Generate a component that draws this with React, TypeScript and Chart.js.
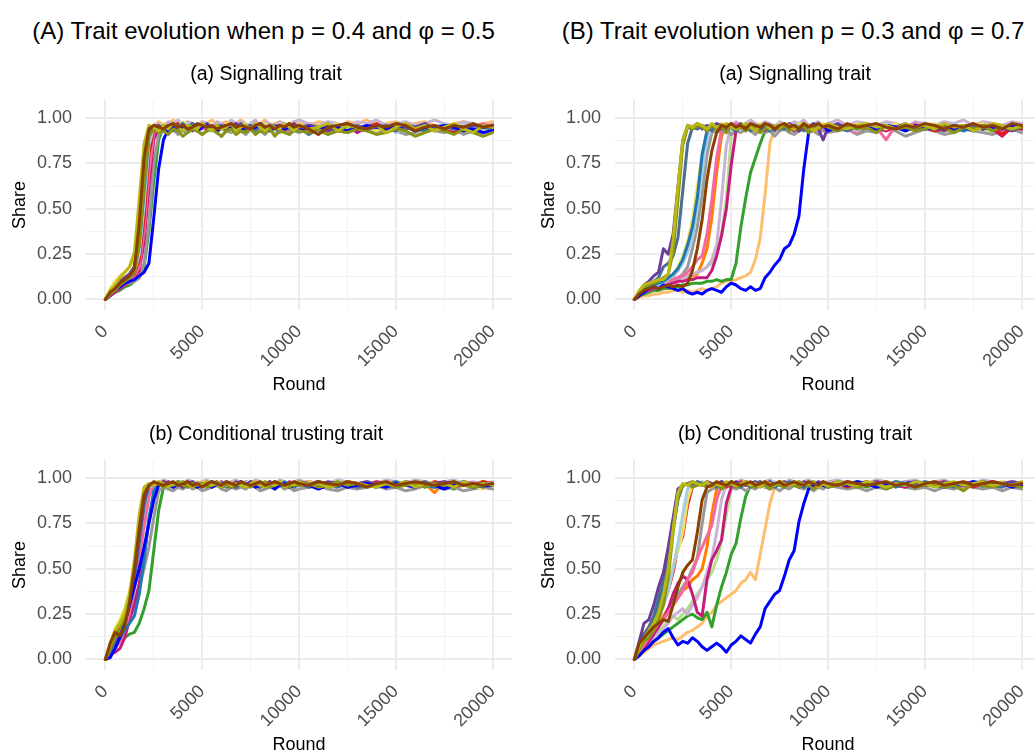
import React, { useEffect, useRef } from "react";
import { Chart, registerables } from "chart.js";
Chart.register(...registerables);

const FONT = "'Liberation Sans', Arial, sans-serif";

// x grid (rounds)
const ROUNDS = [0,250,500,750,1000,1250,1500,1750,2000,2250,2500,2750,3000,3250,3500,3750,4000,4250,4500,4750,5000,5250,5500,5750,6000,6250,6500,6750,7000,7250,7500,7750,8000,8250,8500,8750,9000,9250,9500,9750,10000,10500,11000,11500,12000,12500,13000,13500,14000,14500,15000,15500,16000,16500,17000,17500,18000,18500,19000,19500,20000];

const X_TICKS = [0, 2500, 5000, 7500, 10000, 12500, 15000, 17500, 20000];
const X_MAJOR = [0, 5000, 10000, 15000, 20000];
const Y_TICKS = [0, 0.125, 0.25, 0.375, 0.5, 0.625, 0.75, 0.875, 1];
const Y_MAJOR = [0, 0.25, 0.5, 0.75, 1];

const SERIES_NAMES = ["brown","oliveYellow","oliveDark","blue","purple","slate","steel","lightBlue","yellow","red","pink","magenta","gray","lavender","lightGreen","green","lightOrange","orange"];
const SERIES_COLORS = ["#8B4000","#B8BA12","#8A9414","#0000FF","#6A3D9A","#4A6F91","#1F78B4","#A6CEE3","#F0E060","#E31A1C","#F768A1","#C51B7D","#999999","#CAB2D6","#B2DF8A","#33A02C","#FDBF6F","#FF7F00"];

// ---- Panel A(a): signalling trait, p = 0.4, phi = 0.5 (share in percent) ----
const SIG_A_BROWN = [0,4,6,9,11,13,17,42,78,94, 96,95,94,96,97,95,96,94,95,97, 96,95,96,94,95,96,97,95,96,95, 94,96,97,95,96,94,96,95,97,95, 96,94,91,95,96,97,95,94,96,95, 97,96,93,95,96,94,96,95,97,95, 96];
const SIG_A_OLIVEY = [0,5,8,12,15,18,26,55,86,96, 95,93,96,94,97,95,93,96,95,94, 97,95,93,96,94,95,97,93,95,96, 94,97,95,93,96,95,94,97,95,93, 96,94,95,97,93,96,95,94,96,92, 95,97,94,96,93,95,97,94,92,96, 95];
const SIG_A_OLIVED = [0,3,5,8,10,12,15,30,62,90, 94,92,93,91,94,93,90,92,94,93, 91,93,94,92,90,93,94,91,93,92, 94,91,93,92,94,90,93,92,91,94, 93,92,94,91,93,92,94,93,91,92, 94,93,90,92,94,93,91,94,92,90, 92];
const SIG_A_BLUE = [0,3,5,7,9,10,11,13,15,20, 45,72,88,94,95,93,96,94,95,93, 95,96,94,93,95,96,94,95,93,96, 94,95,96,94,93,95,96,94,95,94, 93,95,94,96,95,93,94,96,95,94, 95,96,93,95,94,96,95,93,94,92, 93];
const SIG_A_PURPLE = [0,4,7,10,12,14,18,35,70,93, 95,96,94,95,97,94,96,95,93,96, 95,97,94,96,95,93,96,97,95,94, 96,95,97,94,96,95,93,96,95,97, 94,96,95,93,96,97,95,94,96,95, 93,96,95,97,94,96,95,93,96,95, 96];
const SIG_A_SLATE = [0,4,6,9,12,14,18,38,72,93, 96,95,93,96,94,95,97,94,96,93, 95,96,94,92,95,96,94,95,97,94, 95,93,96,94,95,96,93,95,94,96, 95,91,94,96,95,93,96,94,95,96, 94,95,93,96,95,94,96,95,93,95, 94];
const SIG_A_STEEL = [0,3,6,8,11,13,16,30,60,90, 95,94,96,95,93,96,94,95,97,94, 96,95,93,95,96,94,95,96,93,95, 96,94,95,93,96,95,94,96,95,93, 95,96,94,95,93,96,95,94,96,95, 94,96,95,93,95,96,94,95,93,96, 95];
const SIG_A_LIGHTBLUE = [0,3,5,8,10,12,15,25,52,85, 95,96,94,95,97,95,93,96,95,94, 96,97,95,94,96,95,93,96,94,95, 97,95,94,96,95,93,95,96,94,95, 96,94,95,97,95,93,96,94,95,96, 92,95,96,94,95,97,94,96,95,94, 95];
const SIG_A_YELLOW = [0,6,10,13,15,18,22,35,65,92, 96,95,97,94,96,95,98,95,94,96, 95,97,96,94,95,97,95,96,94,97, 95,96,94,97,95,96,95,94,96,97, 95,94,96,95,97,94,96,95,93,96, 95,97,94,96,95,94,97,95,96,94, 96];
const SIG_A_RED = [0,3,6,8,10,12,14,22,45,80, 94,95,96,94,95,97,94,96,95,93, 96,95,94,96,95,93,96,94,95,96, 94,95,97,95,94,96,95,93,96,95, 94,96,95,93,95,96,94,95,97,94, 96,95,94,96,95,93,92,95,96,94, 95];
const SIG_A_PINK = [0,3,5,7,9,11,13,18,38,70, 92,95,94,96,95,93,96,94,97,95, 94,96,95,93,96,97,94,95,96,94, 95,96,94,97,95,94,96,95,93,96, 95,94,96,95,93,96,95,94,96,95, 94,97,95,94,96,95,94,96,95,97, 95];
const SIG_A_MAGENTA = [0,2,4,6,8,10,12,16,32,62, 88,95,94,96,95,93,96,95,94,96, 95,94,96,93,95,96,94,95,93,96, 95,94,96,95,93,96,94,95,96,94, 95,93,96,94,95,96,92,95,94,96, 95,94,96,93,95,96,94,95,92,95, 94];
const SIG_A_GRAY = [0,2,4,6,8,9,10,12,20,42, 75,91,93,92,94,91,93,92,94,93, 91,93,94,92,90,93,92,94,93,91, 94,92,93,91,94,93,92,94,91,93, 92,94,93,91,93,92,94,93,92,94, 93,91,92,94,93,92,94,91,93,92, 93];
const SIG_A_LAVENDER = [0,3,5,7,9,11,13,18,36,66, 90,97,96,98,97,99,96,98,97,96, 98,97,95,98,97,96,99,97,98,96, 97,99,96,98,97,95,98,97,96,98, 99,97,96,98,97,95,98,97,99,96, 97,98,96,97,99,97,96,98,97,95, 97];
const SIG_A_LIGHTGREEN = [0,3,6,8,10,12,14,20,40,72, 92,95,96,94,95,93,96,95,94,96, 95,93,96,94,95,96,94,95,93,96, 94,96,95,93,96,95,94,96,95,93, 96,95,94,96,93,95,96,94,95,96, 94,95,96,93,95,94,96,95,94,96, 95];
const SIG_A_GREEN = [0,2,4,5,7,8,10,12,18,38, 65,88,95,94,96,95,93,96,94,95, 96,94,95,93,96,95,94,96,95,93, 95,96,94,95,96,93,95,94,96,95, 93,96,94,95,96,95,93,94,96,95, 94,96,93,95,94,96,95,93,96,94, 95];
const SIG_A_LIGHTORANGE = [0,4,7,9,12,14,17,28,55,86, 96,98,96,97,99,97,96,98,97,95, 98,97,99,96,97,98,96,97,99,97, 96,98,97,99,96,97,98,96,97,98, 97,96,98,97,95,98,97,99,96,97, 98,96,97,98,96,95,97,98,96,97, 98];
const SIG_A_ORANGE = [0,3,5,8,10,12,14,20,44,76, 93,95,96,94,95,96,94,95,93,96, 95,94,96,95,94,96,95,93,95,96, 94,95,96,94,95,93,96,95,94,96, 95,94,96,93,95,96,94,95,96,94, 95,96,94,95,93,96,95,92,95,96, 94];

// ---- Panel A(b): conditional trusting trait, p = 0.4, phi = 0.5 ----
const TRUST_A_BROWN = [0,9,15,13,18,32,50,72,91,96, 98,97,96,97,98,96,97,98,96,97, 95,97,98,97,96,98,97,96,98,97, 96,97,98,96,97,98,97,96,97,98, 97,96,98,97,96,98,97,95,97,98, 96,97,98,97,96,97,98,96,97,96, 97];
const TRUST_A_OLIVEY = [0,8,16,20,26,36,55,80,95,97, 96,98,97,95,97,96,98,97,95,97, 96,98,96,97,95,98,96,97,96,95, 97,98,96,95,97,96,98,95,97,96, 98,96,97,95,96,98,97,96,95,97, 96,98,95,97,96,97,95,98,96,97, 96];
const TRUST_A_OLIVED = [0,6,12,17,24,34,52,75,93,97, 96,97,95,97,96,98,96,95,97,96, 97,95,96,98,96,97,95,96,97,96, 95,97,96,98,95,96,97,96,95,97, 96,97,95,96,98,96,97,95,96,97, 95,96,97,95,97,96,98,96,95,96, 97];
const TRUST_A_BLUE = [0,1,6,12,20,30,40,50,62,75, 88,96,97,96,95,97,96,98,96,95, 97,96,95,97,96,97,95,96,98,96, 97,95,96,97,96,94,96,97,95,96, 97,96,94,96,97,95,96,97,96,95, 97,96,95,97,96,94,96,97,95,96, 96];
const TRUST_A_PURPLE = [0,6,11,16,22,32,48,68,88,96, 97,96,98,97,96,97,95,97,98,96, 97,96,98,97,95,97,96,98,97,96, 98,97,96,97,98,96,97,95,97,96, 98,97,96,98,97,96,97,98,96,97, 96,98,97,96,97,98,96,97,95,97, 96];
const TRUST_A_SLATE = [0,5,10,15,21,30,44,64,85,96, 97,96,97,95,96,98,97,96,95,97, 96,97,95,96,97,98,96,95,97,96, 97,96,95,97,96,98,96,97,95,96, 97,95,96,97,96,98,95,96,97,96, 95,97,96,98,96,95,97,96,97,95, 96];
const TRUST_A_STEEL = [0,4,8,12,16,20,24,36,55,78, 93,97,96,97,95,96,98,96,97,95, 96,97,96,98,95,97,96,95,97,96, 98,96,97,95,96,97,96,98,96,95, 97,96,98,96,95,97,96,97,95,96, 98,96,97,96,95,97,96,98,96,97, 96];
const TRUST_A_LIGHTBLUE = [0,5,10,15,22,32,46,64,84,95, 97,98,96,97,98,96,97,95,98,97, 96,98,97,96,97,98,96,97,96,98, 97,96,98,97,95,97,98,96,97,96, 98,97,96,97,98,96,97,95,97,98, 96,97,98,96,97,96,98,97,96,97, 97];
const TRUST_A_YELLOW = [0,9,17,22,28,38,52,70,88,96, 97,98,97,96,98,97,96,98,97,95, 98,97,96,98,97,96,97,98,96,97, 98,96,97,98,97,95,97,98,96,97, 97,98,96,97,98,97,96,98,95,97, 98,97,96,98,97,96,98,97,96,94, 97];
const TRUST_A_RED = [0,6,12,18,25,35,50,68,86,96, 97,96,98,97,96,97,98,96,97,95, 97,98,96,97,96,98,97,95,97,96, 98,97,96,97,95,97,98,96,97,96, 97,98,96,97,96,98,97,96,95,97, 98,96,97,96,98,97,95,97,96,98, 97];
const TRUST_A_PINK = [0,3,6,10,16,26,40,56,74,90, 97,96,98,97,96,97,95,97,98,96, 97,96,97,98,96,97,95,96,98,97, 96,97,98,96,97,96,98,97,95,97, 96,98,97,96,97,98,96,97,96,98, 97,96,98,97,95,97,96,98,97,96, 97];
const TRUST_A_MAGENTA = [0,3,4,6,12,22,30,42,58,76, 90,97,96,98,97,96,97,95,97,96, 98,97,96,97,98,96,95,97,96,98, 97,96,97,95,98,96,97,96,98,97, 96,97,98,96,97,95,97,96,98,97, 96,97,95,98,96,97,96,98,97,96, 97];
const TRUST_A_GRAY = [0,4,8,12,18,24,32,40,50,62, 78,93,95,94,93,95,94,96,94,95, 93,94,95,96,94,93,95,94,95,94, 96,95,93,94,95,94,96,94,95,93, 94,95,96,94,93,95,94,95,96,94, 95,93,94,96,95,94,95,93,94,95, 94];
const TRUST_A_LAVENDER = [0,5,9,14,20,28,40,56,74,92, 98,97,99,98,97,98,97,99,98,97, 98,99,97,98,97,96,98,99,97,98, 97,99,98,97,98,96,99,98,97,98, 99,97,98,97,99,98,96,98,97,99, 98,97,99,98,97,98,99,97,98,97, 98];
const TRUST_A_LIGHTGREEN = [0,5,10,14,20,27,38,54,72,90, 97,96,97,98,96,97,95,96,98,97, 96,97,98,96,95,97,96,98,97,96, 97,95,96,98,97,96,97,98,96,94, 97,96,98,97,96,97,95,98,96,97, 96,98,97,96,97,95,97,98,96,97, 96];
const TRUST_A_GREEN = [0,3,7,10,12,14,15,20,28,38, 60,82,95,97,96,98,97,96,97,95, 97,96,98,96,97,95,97,96,98,97, 96,97,95,97,96,98,97,96,95,97, 96,98,97,96,97,95,96,98,97,96, 97,96,98,95,97,96,94,97,96,98, 97];
const TRUST_A_LIGHTORANGE = [0,6,11,16,22,30,44,62,82,95, 97,96,98,97,96,98,97,96,97,98, 96,97,98,97,96,97,98,96,97,96, 98,97,96,98,97,96,97,95,97,98, 96,97,98,96,97,98,96,97,96,98, 97,96,97,98,96,97,94,96,97,98, 97];
const TRUST_A_ORANGE = [0,4,9,13,19,27,40,58,78,94, 97,96,97,98,96,97,96,98,97,95, 97,96,98,97,96,97,95,97,98,96, 97,98,96,97,96,98,97,96,97,95, 97,98,96,97,96,98,97,96,98,97, 96,97,95,97,92,98,96,96,97,96, 97];

// ---- Panel B(a): signalling trait, p = 0.3, phi = 0.7 ----
const SIG_B_BROWN = [0,3,5,6,7,6,7,8,7,8, 7,9,16,28,44,66,82,92,96,95, 97,95,96,94,97,96,95,97,96,94, 96,97,95,96,94,97,95,96,97,95, 96,94,97,95,96,97,95,94,96,95, 97,96,94,96,95,97,95,96,94,97, 96];
const SIG_B_OLIVEY = [0,5,8,9,10,11,11,14,33,62, 88,96,95,97,96,94,97,95,96,97, 95,94,96,97,95,93,96,97,94,96, 95,97,96,94,95,97,96,93,95,96, 97,95,94,96,97,95,96,94,97,95, 96,94,97,95,96,93,95,97,96,94, 96];
const SIG_B_OLIVED = [0,4,7,8,9,10,12,14,26,55, 85,95,94,96,95,93,96,94,95,92, 96,94,95,93,96,95,92,94,96,95, 94,96,93,95,94,96,92,95,94,96, 95,93,96,94,95,92,96,94,95,93, 94,96,95,92,95,94,96,93,95,94, 95];
const SIG_B_BLUE = [0,2,4,6,7,6,8,7,6,5, 6,4,3,4,3,5,6,5,4,7, 9,8,6,5,7,5,6,12,15,19, 22,28,30,36,46,72,92,95,94,96, 93,95,94,96,95,94,96,95,93,96, 94,95,96,94,95,93,96,95,94,96, 95];
const SIG_B_PURPLE = [0,4,8,10,13,15,28,25,36,62, 88,96,95,97,94,96,95,97,96,94, 96,95,97,93,96,95,94,97,96,95, 94,96,97,95,93,96,95,97,94,88, 95,97,94,96,95,93,96,95,97,94, 96,95,93,96,95,97,94,96,95,93, 95];
const SIG_B_SLATE = [0,3,6,8,10,12,18,20,24,34, 60,86,95,94,96,95,93,96,94,95, 96,94,95,96,93,95,96,94,95,93, 96,95,94,96,95,93,96,94,95,96, 94,95,93,96,95,94,96,95,93,95, 96,94,95,93,96,95,94,96,95,94, 95];
const SIG_B_STEEL = [0,3,5,7,8,9,10,12,14,17, 22,30,40,56,80,93,96,95,94,96, 95,93,96,94,95,96,94,95,93,96, 95,94,96,95,93,95,96,94,95,96, 94,95,93,96,95,94,96,95,93,95, 96,94,95,96,93,95,94,96,95,94, 95];
const SIG_B_LIGHTBLUE = [0,3,5,6,7,8,9,11,13,16, 20,26,34,50,70,88,95,96,94,95, 97,95,94,96,95,97,94,96,95,93, 96,95,97,94,96,95,94,96,97,95, 94,96,95,93,96,95,97,94,96,95, 94,96,95,97,94,95,96,94,95,96, 95];
const SIG_B_YELLOW = [0,4,6,8,9,10,11,12,14,18, 24,32,44,62,80,93,96,95,97,94, 96,95,97,96,94,95,97,95,96,94, 97,95,96,94,97,96,95,94,96,97, 95,96,94,97,95,96,94,97,95,96, 94,97,95,96,94,96,97,95,94,96, 95];
const SIG_B_RED = [0,3,5,6,8,9,10,11,13,16, 22,28,37,52,74,90,96,95,94,96, 95,93,96,94,95,97,94,96,95,93, 96,95,94,96,93,95,96,94,95,96, 93,95,96,94,95,93,96,95,94,96, 95,93,94,96,95,94,96,95,91,95, 94];
const SIG_B_PINK = [0,3,5,6,7,8,9,10,11,12, 13,15,18,22,24,36,55,78,94,96, 95,97,94,96,95,93,96,95,94,96, 95,97,94,96,95,94,96,95,97,94, 95,96,94,92,96,95,88,96,95,97, 94,96,95,93,96,95,94,96,92,95, 94];
const SIG_B_MAGENTA = [0,2,4,5,6,7,8,8,9,10, 10,11,11,12,12,12,16,24,35,50, 74,93,96,95,94,96,95,93,96,95, 94,96,95,93,96,94,95,96,94,95, 93,96,95,94,96,95,93,95,96,94, 95,93,96,95,94,96,95,94,90,95, 94];
const SIG_B_GRAY = [0,2,4,5,6,7,8,9,11,12, 14,18,28,40,58,80,92,93,92,94, 91,93,92,94,93,91,94,92,93,90, 93,94,92,91,93,94,92,93,91,94, 92,93,94,91,93,92,94,93,90,92, 94,93,91,92,94,93,92,91,93,94, 92];
const SIG_B_LAVENDER = [0,2,4,5,6,7,8,9,10,11, 12,13,14,15,16,18,22,30,55,85, 96,98,96,97,99,97,96,98,97,95, 98,97,96,98,97,99,96,97,98,96, 97,99,96,98,97,96,98,97,95,98, 97,96,98,97,99,96,98,97,96,98, 97];
const SIG_B_LIGHTGREEN = [0,2,4,5,6,7,8,9,10,11, 12,13,14,15,16,18,20,28,36,55, 90,96,94,95,97,94,96,95,93,96, 95,94,96,95,93,96,95,94,97,95, 94,96,95,93,96,95,94,96,95,93, 96,94,95,93,96,95,94,92,95,96, 95];
const SIG_B_GREEN = [0,2,3,4,5,5,6,6,7,7, 8,8,9,9,9,10,10,11,10,11, 11,20,40,56,70,78,86,93,96,95, 94,96,95,93,96,95,94,96,95,93, 95,96,94,92,95,96,94,95,93,96, 95,94,96,95,93,96,94,95,96,94, 95];
const SIG_B_LIGHTORANGE = [0,1,2,2,3,3,4,4,5,5, 4,5,4,5,6,5,6,7,9,10, 10,11,12,13,15,22,34,58,86,95, 96,94,95,97,95,94,96,95,93,96, 95,94,96,95,97,94,96,95,94,96, 95,93,96,95,94,96,95,97,94,95, 96];
const SIG_B_ORANGE = [0,3,5,6,7,8,9,10,11,12, 12,13,13,14,20,28,45,70,90,96, 95,94,96,95,93,96,95,94,96,95, 94,96,93,95,96,94,95,96,93,95, 96,94,95,96,94,95,93,96,95,94, 96,95,93,94,96,95,94,96,95,93, 95];

// ---- Panel B(b): conditional trusting trait, p = 0.3, phi = 0.7 ----
const TRUST_B_BROWN = [0,9,12,15,18,20,22,21,30,40, 48,52,55,70,88,95,96,98,97,96, 98,97,96,97,98,96,97,98,96,97, 98,96,97,98,97,96,98,97,96,98, 97,96,98,97,96,97,98,96,97,95, 97,98,96,97,98,96,97,98,97,96, 97];
const TRUST_B_OLIVEY = [0,7,12,16,20,26,36,50,72,92, 97,96,98,97,96,98,95,97,96,98, 97,96,97,98,96,97,95,98,97,96, 98,97,96,97,98,96,97,98,95,97, 96,98,97,96,98,97,95,97,96,98, 97,95,97,98,96,97,98,96,97,96, 98];
const TRUST_B_OLIVED = [0,5,10,12,16,22,30,45,70,90, 96,97,95,96,97,95,96,97,94,96, 97,95,96,97,96,95,97,96,94,97, 96,95,97,96,95,97,96,94,96,97, 95,96,97,95,96,97,94,96,97,95, 96,97,95,96,93,97,96,95,97,96, 95];
const TRUST_B_BLUE = [0,2,5,7,10,12,15,17,12,8, 10,9,12,10,7,5,7,9,7,4, 8,10,13,11,9,14,18,28,32,36, 38,46,55,60,76,86,94,96,97,96, 95,97,96,98,97,95,97,96,97,98, 96,97,95,97,96,98,97,96,97,95, 96];
const TRUST_B_PURPLE = [0,10,20,22,30,40,48,62,78,94, 96,97,98,97,96,98,97,96,98,97, 96,98,97,96,97,98,96,97,98,96, 97,98,96,97,95,98,97,96,98,97, 96,97,98,96,97,98,96,97,96,98, 97,96,98,97,96,97,98,96,97,98, 97];
const TRUST_B_SLATE = [0,8,14,18,24,34,44,58,76,92, 96,97,96,98,97,96,97,95,97,96, 98,97,96,97,95,97,98,96,97,96, 97,95,97,96,98,97,96,97,95,97, 96,98,97,96,97,95,96,98,97,96, 97,96,95,97,96,98,97,96,95,97, 96];
const TRUST_B_STEEL = [0,6,12,16,22,30,40,55,72,88, 96,97,96,98,97,95,97,96,98,97, 96,97,95,98,97,96,97,96,98,95, 97,96,98,97,96,95,97,98,96,97, 95,97,96,98,97,96,97,95,97,96, 98,96,97,95,97,96,98,97,96,97, 96];
const TRUST_B_LIGHTBLUE = [0,5,10,14,18,24,30,38,50,64, 80,94,97,96,98,97,96,97,98,96, 97,98,96,97,96,98,97,95,97,98, 96,97,98,96,97,96,98,97,96,97, 98,96,97,98,96,97,95,97,98,96, 97,98,96,97,96,98,97,96,97,98, 97];
const TRUST_B_YELLOW = [0,8,14,18,22,28,34,42,52,60, 70,88,96,97,98,96,97,98,97,96, 98,97,96,98,97,96,97,98,96,97, 98,97,96,97,98,96,97,98,96,97, 98,96,97,98,97,96,98,97,96,98, 97,96,98,97,96,98,97,96,98,97, 96];
const TRUST_B_RED = [0,6,12,16,20,25,30,38,48,62, 68,85,95,97,96,98,97,96,97,95, 97,96,98,97,96,97,98,96,97,96, 98,97,96,97,95,97,98,96,97,98, 96,97,95,97,98,96,97,96,98,97, 96,97,98,96,97,95,97,98,96,97, 96];
const TRUST_B_PINK = [0,4,8,12,16,20,22,26,30,34, 38,44,48,56,62,68,74,88,96,97, 96,98,97,96,97,95,97,98,96,97, 96,97,98,96,97,96,98,97,95,97, 96,98,97,96,97,98,96,97,96,98, 97,96,98,97,95,97,96,98,97,96, 97];
const TRUST_B_MAGENTA = [0,3,6,10,14,18,22,28,36,42, 46,44,36,26,24,44,55,60,66,86, 95,97,96,98,97,96,97,95,97,96, 98,97,96,97,98,96,97,95,97,96, 98,97,96,97,96,98,97,96,95,97, 96,98,97,96,97,98,96,97,96,98, 97];
const TRUST_B_GRAY = [0,3,6,10,14,18,22,28,32,36, 40,44,50,56,75,92,94,95,94,96, 95,94,95,93,95,94,96,95,94,95, 93,95,94,96,95,94,95,93,95,94, 96,95,94,95,93,95,94,96,95,94, 95,93,95,94,96,95,94,95,93,95, 94];
const TRUST_B_LAVENDER = [0,3,6,9,12,14,17,20,24,26, 28,25,30,34,40,48,56,70,88,97, 98,97,99,98,97,98,96,98,99,97, 98,97,99,98,97,98,99,97,98,96, 98,99,97,98,97,99,98,97,98,99, 97,98,99,97,98,97,99,98,96,98, 97];
const TRUST_B_LIGHTGREEN = [0,4,8,10,14,16,18,22,24,22, 25,28,32,36,40,44,48,55,65,80, 94,97,96,98,97,96,97,95,97,96, 98,97,96,97,98,96,97,96,98,97, 96,97,95,97,98,96,97,96,98,97, 96,98,97,96,97,95,97,96,98,97, 96];
const TRUST_B_GREEN = [0,3,5,8,10,12,14,16,18,20, 22,24,25,23,22,26,18,30,40,48, 58,64,78,90,96,97,96,98,97,96, 97,95,97,98,96,97,96,98,97,96, 97,98,96,97,95,97,96,98,97,96, 97,96,98,97,96,97,95,97,96,98, 97];
const TRUST_B_LIGHTORANGE = [0,2,4,6,8,9,10,11,12,11, 13,15,16,18,20,24,26,30,32,34, 36,38,42,44,48,44,58,72,86,95, 97,96,98,97,96,97,98,96,97,95, 97,96,98,97,96,97,98,96,97,96, 98,97,96,97,95,97,96,98,97,96, 97];
const TRUST_B_ORANGE = [0,4,8,12,16,20,24,28,30,34, 38,40,44,46,50,62,80,94,97,96, 98,97,96,97,95,97,96,98,97,96, 97,98,96,97,96,98,97,96,97,95, 97,96,98,97,96,97,98,96,97,96, 98,97,96,97,95,97,96,98,97,96, 97];

// series lists follow SERIES_NAMES order (first is drawn on top)
const PANEL_SIG_A = [SIG_A_BROWN, SIG_A_OLIVEY, SIG_A_OLIVED, SIG_A_BLUE, SIG_A_PURPLE, SIG_A_SLATE, SIG_A_STEEL, SIG_A_LIGHTBLUE, SIG_A_YELLOW, SIG_A_RED, SIG_A_PINK, SIG_A_MAGENTA, SIG_A_GRAY, SIG_A_LAVENDER, SIG_A_LIGHTGREEN, SIG_A_GREEN, SIG_A_LIGHTORANGE, SIG_A_ORANGE];
const PANEL_TRUST_A = [TRUST_A_BROWN, TRUST_A_OLIVEY, TRUST_A_OLIVED, TRUST_A_BLUE, TRUST_A_PURPLE, TRUST_A_SLATE, TRUST_A_STEEL, TRUST_A_LIGHTBLUE, TRUST_A_YELLOW, TRUST_A_RED, TRUST_A_PINK, TRUST_A_MAGENTA, TRUST_A_GRAY, TRUST_A_LAVENDER, TRUST_A_LIGHTGREEN, TRUST_A_GREEN, TRUST_A_LIGHTORANGE, TRUST_A_ORANGE];
const PANEL_SIG_B = [SIG_B_BROWN, SIG_B_OLIVEY, SIG_B_OLIVED, SIG_B_BLUE, SIG_B_PURPLE, SIG_B_SLATE, SIG_B_STEEL, SIG_B_LIGHTBLUE, SIG_B_YELLOW, SIG_B_RED, SIG_B_PINK, SIG_B_MAGENTA, SIG_B_GRAY, SIG_B_LAVENDER, SIG_B_LIGHTGREEN, SIG_B_GREEN, SIG_B_LIGHTORANGE, SIG_B_ORANGE];
const PANEL_TRUST_B = [TRUST_B_BROWN, TRUST_B_OLIVEY, TRUST_B_OLIVED, TRUST_B_BLUE, TRUST_B_PURPLE, TRUST_B_SLATE, TRUST_B_STEEL, TRUST_B_LIGHTBLUE, TRUST_B_YELLOW, TRUST_B_RED, TRUST_B_PINK, TRUST_B_MAGENTA, TRUST_B_GRAY, TRUST_B_LAVENDER, TRUST_B_LIGHTGREEN, TRUST_B_GREEN, TRUST_B_LIGHTORANGE, TRUST_B_ORANGE];

const CW = 520;
const CH = 345;

function Panel(props: { series: number[][]; title: string; left: number; top: number }) {
  const ref = useRef<HTMLCanvasElement>(null);
  useEffect(() => {
    const canvas = ref.current;
    if (!canvas) return;
    const datasets = props.series.map((s, i) => ({
      label: SERIES_NAMES[i],
      data: s.slice(0, ROUNDS.length).map((v, j) => ({ x: ROUNDS[j], y: v / 100 })),
      borderColor: SERIES_COLORS[i],
      backgroundColor: SERIES_COLORS[i],
      borderWidth: 3,
      pointRadius: 0,
      fill: false,
      tension: 0,
      borderJoinStyle: "round" as const,
      borderCapStyle: "round" as const,
    }));
    const tickFont = { family: FONT, size: 18 };
    const chart = new Chart(canvas, {
      type: "line",
      data: { datasets },
      options: {
        responsive: false,
        animation: false,
        events: [],
        layout: { padding: { left: 20, right: 8, top: 0, bottom: 0 } },
        plugins: {
          legend: { display: false },
          tooltip: { enabled: false },
          title: {
            display: true,
            text: props.title,
            color: "#000000",
            font: { family: FONT, size: 19.5, weight: "normal" },
            padding: { top: 8, bottom: 13.6 },
          },
        },
        scales: {
          x: {
            type: "linear",
            min: -1000,
            max: 21000,
            afterBuildTicks: (s: any) => {
              s.ticks = X_TICKS.map((v) => ({ value: v }));
            },
            afterFit: (s: any) => {
              s.height = 90;
            },
            border: { display: false },
            grid: {
              drawTicks: false,
              color: (c: any) => (c.tick && X_MAJOR.includes(c.tick.value) ? "#EBEBEB" : "#F2F2F2"),
              lineWidth: (c: any) => (c.tick && X_MAJOR.includes(c.tick.value) ? 2 : 1),
            },
            ticks: {
              autoSkip: false,
              minRotation: 45,
              maxRotation: 45,
              padding: 11,
              color: "#4D4D4D",
              font: tickFont,
              callback: (v: any) => (X_MAJOR.includes(Number(v)) ? String(v) : ""),
            },
            title: {
              display: true,
              text: "Round",
              color: "#000000",
              font: { family: FONT, size: 18 },
              padding: { top: 0, bottom: 4 },
            },
          },
          y: {
            type: "linear",
            min: -0.058,
            max: 1.1,
            afterBuildTicks: (s: any) => {
              s.ticks = Y_TICKS.map((v) => ({ value: v }));
            },
            afterFit: (s: any) => {
              s.width = 66;
            },
            border: { display: false },
            grid: {
              drawTicks: false,
              color: (c: any) => (c.tick && Y_MAJOR.includes(c.tick.value) ? "#EBEBEB" : "#F2F2F2"),
              lineWidth: (c: any) => (c.tick && Y_MAJOR.includes(c.tick.value) ? 2 : 1),
            },
            ticks: {
              padding: 14,
              color: "#4D4D4D",
              font: tickFont,
              callback: (v: any) => (Y_MAJOR.includes(Number(v)) ? Number(v).toFixed(2) : ""),
            },
            title: {
              display: true,
              text: "Share",
              color: "#000000",
              font: { family: FONT, size: 18 },
              padding: { top: -11, bottom: 0 },
            },
          },
        },
      },
    } as any);
    return () => chart.destroy();
  }, []);
  return (
    <canvas
      ref={ref}
      width={CW}
      height={CH}
      style={{ position: "absolute", left: props.left, top: props.top, width: CW, height: CH }}
    />
  );
}

const headStyle: React.CSSProperties = {
  position: "absolute",
  top: 17,
  fontFamily: FONT,
  fontSize: 24,
  lineHeight: "28px",
  color: "#000",
  textAlign: "center",
  whiteSpace: "nowrap",
};

export default function App() {
  return (
    <div style={{ position: "fixed", left: 0, top: 0, width: 1034, height: 754, overflow: "hidden", background: "#fff" }}>
      <div style={{ ...headStyle, left: 0, width: 527 }}>(A) Trait evolution when p = 0.4 and φ = 0.5</div>
      <div style={{ ...headStyle, left: 529, width: 528 }}>(B) Trait evolution when p = 0.3 and φ = 0.7</div>
      <Panel series={PANEL_SIG_A} title="(a) Signalling trait" left={0} top={55} />
      <Panel series={PANEL_TRUST_A} title="(b) Conditional trusting trait" left={0} top={415} />
      <Panel series={PANEL_SIG_B} title="(a) Signalling trait" left={529} top={55} />
      <Panel series={PANEL_TRUST_B} title="(b) Conditional trusting trait" left={529} top={415} />
    </div>
  );
}
